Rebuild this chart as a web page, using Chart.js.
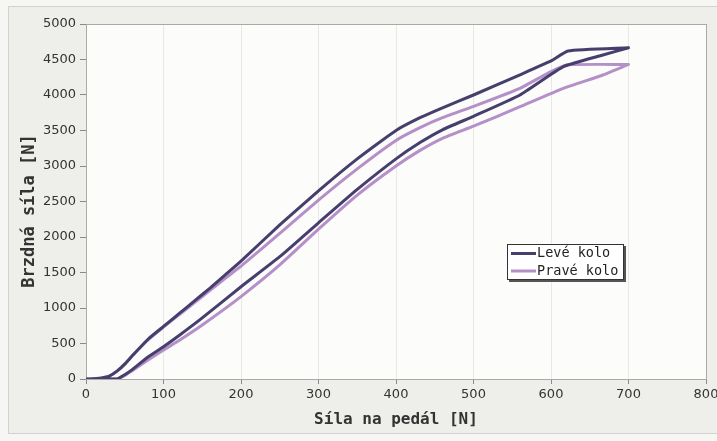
<!DOCTYPE html>
<html>
<head>
<meta charset="utf-8">
<script src="https://cdn.jsdelivr.net/npm/chart.js@4.4.0/dist/chart.umd.min.js"></script>
<style>
  html, body { margin: 0; padding: 0; background: #f5f5f3; }
  #wrap { width: 717px; height: 441px; }
</style>
</head>
<body>
<div id="wrap"><canvas id="c" width="717" height="441"></canvas></div>
<script>
// Pedal force [N] sampled along the rising (upper) branch of each loop
const upperPedal = [0, 10, 20, 30, 40, 50, 60, 80, 100, 120, 140, 160, 180, 200, 250, 300, 350, 400, 431, 460, 500, 560, 600, 622, 700];
// Brake force [N] on the upper branch
const leftUpper  = [0, 5, 15, 40, 110, 210, 330, 560, 740, 920, 1100, 1280, 1470, 1660, 2170, 2650, 3100, 3500, 3680, 3820, 4000, 4285, 4480, 4620, 4665];
const rightUpper = [0, 5, 15, 40, 110, 210, 330, 550, 730, 905, 1075, 1250, 1420, 1590, 2050, 2520, 2960, 3360, 3540, 3680, 3840, 4094, 4330, 4425, 4430];

// Pedal force [N] sampled along the lower branch of each loop
const lowerPedal = [0, 40, 50, 60, 80, 100, 121, 150, 200, 250, 300, 350, 400, 431, 460, 500, 560, 616, 667, 700];
// Brake force [N] on the lower branch
const leftLower  = [0, 0, 60, 135, 310, 455, 620, 860, 1300, 1723, 2200, 2670, 3100, 3330, 3510, 3700, 4000, 4399, 4563, 4665];
const rightLower = [0, 0, 50, 120, 268, 408, 549, 760, 1160, 1606, 2110, 2590, 3000, 3220, 3390, 3560, 3835, 4094, 4282, 4430];

const seriesNames = ['Levé kolo', 'Pravé kolo'];
const seriesColors = ['#463e6c', '#b58fc7'];

const xTitle = 'Síla na pedál [N]';
const yTitle = 'Brzdná síla [N]';
const xMax = 800, xStep = 100;
const yMax = 5000, yStep = 500;

// A closed loop: out along the upper branch, back along the lower one.
// Both branches end at the same turning point, so it appears twice
// and the spline keeps a sharp tip there.
function loop(upperY, lowerY) {
  const pts = upperPedal.map((x, i) => ({ x, y: upperY[i] }));
  for (let i = lowerPedal.length - 1; i >= 0; i--) {
    pts.push({ x: lowerPedal[i], y: lowerY[i] });
  }
  return pts;
}

const backdrop = {
  id: 'backdrop',
  beforeDraw(chart) {
    const { ctx, chartArea: a } = chart;
    ctx.save();
    ctx.fillStyle = '#f6f6f4';
    ctx.fillRect(0, 0, chart.width, chart.height);
    ctx.fillStyle = '#eeeeeb';
    ctx.fillRect(8, 6, 709, 428);
    ctx.strokeStyle = '#d2d2cf';
    ctx.lineWidth = 1;
    ctx.strokeRect(8.5, 6.5, 709, 427);
    ctx.fillStyle = '#fcfcfa';
    ctx.fillRect(a.left, a.top, a.right - a.left, a.bottom - a.top);
    ctx.restore();
  },
  beforeDatasetsDraw(chart) {
    const { ctx, chartArea: a } = chart;
    ctx.save();
    ctx.strokeStyle = '#a9a9a6';
    ctx.lineWidth = 1;
    ctx.strokeRect(Math.round(a.left) + 0.5, Math.round(a.top) + 0.5,
                   Math.round(a.right - a.left), Math.round(a.bottom - a.top));
    ctx.restore();
  },
  afterDraw(chart) {
    // vertical axis title
    const { ctx } = chart;
    ctx.save();
    ctx.translate(30, 211);
    ctx.rotate(-Math.PI / 2);
    ctx.font = 'bold 17px "DejaVu Sans Mono"';
    ctx.fillStyle = '#333';
    ctx.textAlign = 'center';
    ctx.textBaseline = 'middle';
    ctx.fillText(yTitle, 0, 0);
    ctx.restore();
  }
};

const boxLegend = {
  id: 'boxLegend',
  afterDraw(chart) {
    const { ctx } = chart;
    const x = 507, y = 244, w = 117, h = 36;
    ctx.save();
    ctx.fillStyle = '#555';
    ctx.fillRect(x + 2, y + 2, w, h);
    ctx.fillStyle = '#ffffff';
    ctx.fillRect(x, y, w, h);
    ctx.strokeStyle = '#333';
    ctx.lineWidth = 1;
    ctx.strokeRect(x + 0.5, y + 0.5, w - 1, h - 1);
    ctx.font = '13.5px "DejaVu Sans Mono"';
    ctx.textBaseline = 'middle';
    ctx.fillStyle = '#222';
    chart.data.datasets.forEach((ds, i) => {
      const cy = y + 9.5 + i * 17.5;
      ctx.strokeStyle = ds.borderColor;
      ctx.lineWidth = 3;
      ctx.beginPath();
      ctx.moveTo(x + 4, cy);
      ctx.lineTo(x + 29, cy);
      ctx.stroke();
      ctx.fillText(ds.label, x + 30, cy);
    });
    ctx.restore();
  }
};

new Chart(document.getElementById('c'), {
  type: 'scatter',
  data: {
    datasets: [
      { label: seriesNames[0], data: loop(leftUpper, leftLower) },
      { label: seriesNames[1], data: loop(rightUpper, rightLower) }
    ].map((d, i) => Object.assign(d, {
      showLine: true,
      borderColor: seriesColors[i],
      backgroundColor: seriesColors[i],
      borderWidth: 3,
      borderJoinStyle: 'round',
      borderCapStyle: 'round',
      pointRadius: 0,
      tension: 0.15,
      fill: false
    }))
  },
  options: {
    responsive: false,
    animation: false,
    devicePixelRatio: 1,
    layout: { padding: { left: 12, top: 24, right: 11, bottom: 8 } },
    plugins: { legend: { display: false }, tooltip: { enabled: false } },
    scales: {
      x: {
        type: 'linear', min: 0, max: xMax,
        afterFit(s) { s.height = 54; s.paddingRight = 0; },
        ticks: { stepSize: xStep, padding: 3, color: '#333', callback: v => String(v),
                 font: { family: 'DejaVu Sans', size: 13 } },
        grid: { color: '#e8e8e5', tickColor: '#8a8a88', tickLength: 5 },
        border: { display: true, color: '#9a9a98' },
        title: { display: true, text: xTitle, color: '#333', padding: { top: 0, bottom: 4 },
                 font: { family: 'DejaVu Sans Mono', size: 16, weight: 'bold' } }
      },
      y: {
        type: 'linear', min: 0, max: yMax,
        afterFit(s) { s.width = 74; },
        ticks: { stepSize: yStep, padding: 4, color: '#333', callback: v => String(v),
                 font: { family: 'DejaVu Sans', size: 13 } },
        grid: { drawOnChartArea: false, tickColor: '#8a8a88', tickLength: 6 },
        border: { display: true, color: '#9a9a98' }
      }
    }
  },
  plugins: [backdrop, boxLegend]
});
</script>
</body>
</html>
